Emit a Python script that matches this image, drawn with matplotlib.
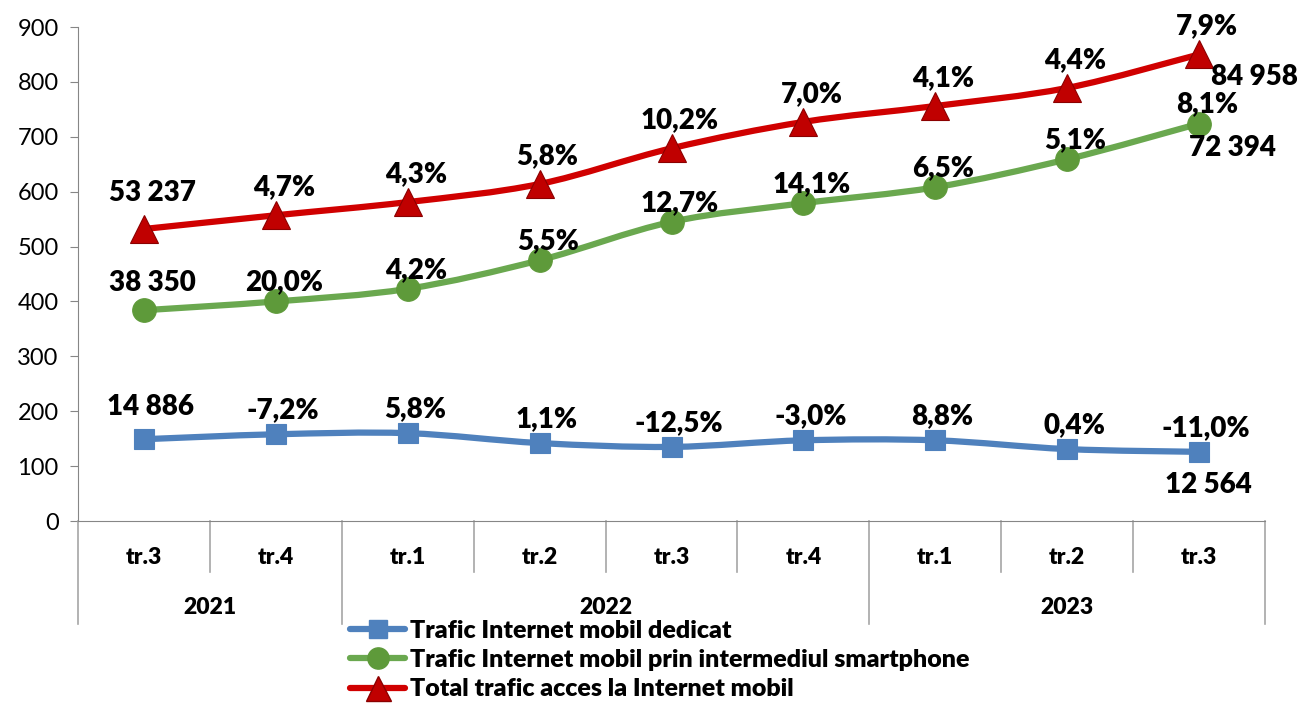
import numpy as np
import matplotlib
matplotlib.use('Agg')
import matplotlib.pyplot as plt
from matplotlib.path import Path
from matplotlib.patches import PathPatch
from matplotlib.lines import Line2D

plt.rcParams['font.family'] = ['Lato', 'DejaVu Sans']

quarters = ['tr.3', 'tr.4', 'tr.1', 'tr.2', 'tr.3', 'tr.4', 'tr.1', 'tr.2', 'tr.3']
years = ['2021', '2022', '2023']
year_spans = [(0, 2), (2, 6), (6, 9)]   # category index ranges per year

dedicat = [149, 158, 160, 142, 135, 147, 147, 131, 126]
smartphone = [384, 400, 423, 475, 545, 579, 608, 659, 724]
total = [532, 557, 581, 614, 679, 727, 756, 789, 850]

lab_dedicat = ['14 886', '-7,2%', '5,8%', '1,1%', '-12,5%', '-3,0%', '8,8%', '0,4%', '-11,0%']
lab_smart = ['38 350', '20,0%', '4,2%', '5,5%', '12,7%', '14,1%', '6,5%', '5,1%', '8,1%']
lab_total = ['53 237', '4,7%', '4,3%', '5,8%', '10,2%', '7,0%', '4,1%', '4,4%', '7,9%']
end_dedicat, end_smart, end_total = '12 564', '72 394', '84 958'

names = ['Trafic Internet mobil dedicat',
         'Trafic Internet mobil prin intermediul smartphone',
         'Total trafic acces la Internet mobil']

fig = plt.figure(figsize=(13, 7.04), dpi=100)
ax = fig.add_axes([78/1300, 1 - 521/704, (1265-78)/1300, 494/704])

x = np.arange(len(quarters))


def smooth_path(xs, ys):
    # bezier path through the points (Excel-style smoothed line)
    pts = np.column_stack([xs, ys]).astype(float)
    n = len(pts)
    verts = [pts[0]]
    codes = [Path.MOVETO]
    for i in range(n - 1):
        p0 = pts[i - 1] if i > 0 else pts[i]
        p1 = pts[i]
        p2 = pts[i + 1]
        p3 = pts[i + 2] if i + 2 < n else pts[i + 1]
        c1 = p1 + (p2 - p0) / 6.0
        c2 = p2 - (p3 - p1) / 6.0
        verts += [c1, c2, p2]
        codes += [Path.CURVE4] * 3
    return Path(verts, codes)


series = [
    (dedicat, '#4F81BD', '#4F81BD', '#4F81BD', 's', 15, lab_dedicat, (7, 24), end_dedicat, (9, -33)),
    (smartphone, '#6AA84F', '#5E9A3A', '#5E9A3A', 'o', 17, lab_smart, (8, 19), end_smart, (33, -24)),
    (total, '#D00000', '#C00000', '#8B0000', '^', 20, lab_total, (8, 28), end_total, (55, -23)),
]

handles = []
for ys, lc, mc, ec, mk, ms, labs, off, endlab, endoff in series:
    ax.add_patch(PathPatch(smooth_path(x, ys), facecolor='none', edgecolor=lc,
                           lw=4.5, capstyle='round', zorder=2))
    ax.plot(x, ys, ls='none', marker=mk, ms=ms, mfc=mc, mec=ec, mew=0.8, zorder=3)
    for i, (xi, yi) in enumerate(zip(x, ys)):
        dy = off[1] + (8 if i == 0 else 0)
        ax.annotate(labs[i], (xi, yi), xytext=(off[0], dy), textcoords='offset pixels',
                    ha='center', va='center', fontsize=20, fontweight='heavy', zorder=4)
    ax.annotate(endlab, (x[-1], ys[-1]), xytext=endoff, textcoords='offset pixels',
                ha='center', va='center', fontsize=20, fontweight='heavy', zorder=4)
    handles.append(Line2D([], [], color=lc, lw=4.5, marker=mk, ms=ms * 0.9,
                          mfc=mc, mec=ec, solid_capstyle='round'))

ax.set_xlim(-0.5, len(quarters) - 0.5)
ax.set_ylim(0, 900)
ax.set_yticks(range(0, 901, 100))
ax.tick_params(axis='y', direction='out', length=6, color='#868686', labelsize=17, pad=8)
ax.set_xticks([])
for s in ['top', 'right']:
    ax.spines[s].set_visible(False)
for s in ['left', 'bottom']:
    ax.spines[s].set_color('#868686')

# multi-level category axis
tr = ax.get_xaxis_transform()
h = 494
year_bounds = set()
for a, b in year_spans:
    year_bounds.add(a)
    year_bounds.add(b)
for k in range(len(quarters) + 1):
    bottom = -103 / h if k in year_bounds else -51 / h
    ax.plot([k - 0.5, k - 0.5], [0, bottom], color='#A6A6A6', lw=1.2,
            transform=tr, clip_on=False)
for xi, q in zip(x, quarters):
    ax.text(xi, -36 / h, q, transform=tr, ha='center', va='center',
            fontsize=16.5, fontweight='heavy')
for (a, b), yr in zip(year_spans, years):
    ax.text((a + b - 1) / 2, -86 / h, yr, transform=tr, ha='center', va='center',
            fontsize=16.5, fontweight='heavy')

fig.legend(handles, names, loc='center left', bbox_to_anchor=(350/1300, 1 - 660/704),
           frameon=False, prop={'size': 18, 'weight': 'heavy'}, handlelength=2.2,
           handletextpad=0.2, labelspacing=0.3, borderpad=0, borderaxespad=0)

fig.savefig('out.png', dpi=100)
